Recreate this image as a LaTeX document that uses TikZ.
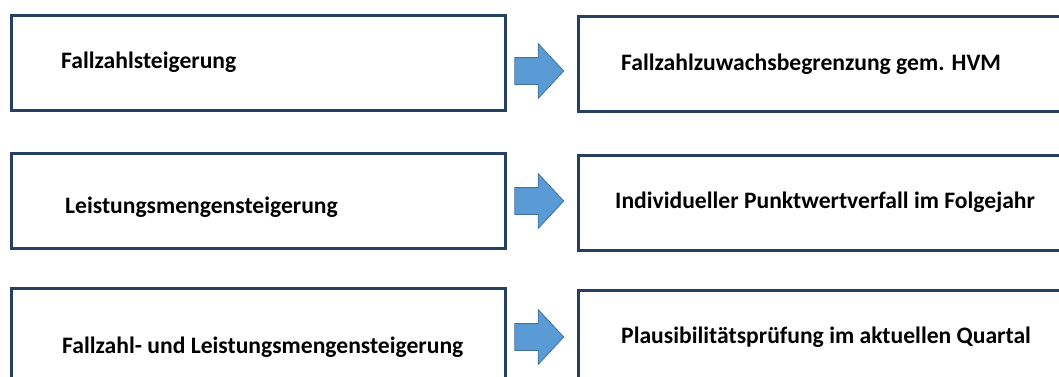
\documentclass[tikz,border=0pt]{standalone}
\usepackage{fontspec}
\setmainfont{Carlito}
\usetikzlibrary{positioning,shapes.arrows}

\definecolor{boxblue}{RGB}{37,64,97}
\definecolor{arrowfill}{RGB}{91,155,213}
\definecolor{arrowline}{RGB}{65,113,156}

\tikzset{
  box/.style={draw=boxblue, line width=3pt, minimum width=494pt,
    minimum height=95pt, inner sep=0pt, anchor=north west},
  boxtext/.style={anchor=base west, inner sep=0pt,
    font=\fontsize{23.6}{28}\selectfont\bfseries},
  blockarrow/.style={single arrow, fill=arrowfill, draw=arrowline,
    line width=0.8pt, minimum height=49pt, inner xsep=0pt,
    inner ysep=13pt, single arrow head extend=14pt,
    single arrow tip angle=94}
}

\begin{document}
\begin{tikzpicture}[x=1pt, y=-1pt]
  \useasboundingbox (0,0) rectangle (1059,376);
  \clip (0,0) rectangle (1059,376);
  % left column
  \node[box] (fz) at (9.5,13.5) {};
  \node[box] (lm) at (9.5,152) {};
  \node[box] (fl) at (9.5,286.5) {};
  % right column
  \node[box] (hvm) at (576.5,14.5) {};
  \node[box] (pw) at (576.5,153.5) {};
  \node[box] (pp) at (576.5,289) {};
  % texts
  \node[boxtext] (fzt) at (61,68) {Fallzahlsteigerung};
  \node[boxtext] (lmt) at (65,213) {Leistungsmengensteigerung};
  \node[boxtext] (flt) at (62,353) {Fallzahl- und Leistungsmengensteigerung};
  \node[boxtext] (hvmt) at (621,70) {Fallzahlzuwachsbegrenzung gem. HVM};
  \node[boxtext] (pwt) at (615,208) {Individueller Punktwertverfall im Folgejahr};
  \node[boxtext] (ppt) at (621,343) {Plausibilitätsprüfung im aktuellen Quartal};
  % arrows
  \foreach \i/\y in {1/71,2/201,3/337}
    {
      \node[blockarrow] (arr\i) at (533,\y) {};
    }
\end{tikzpicture}
\end{document}
